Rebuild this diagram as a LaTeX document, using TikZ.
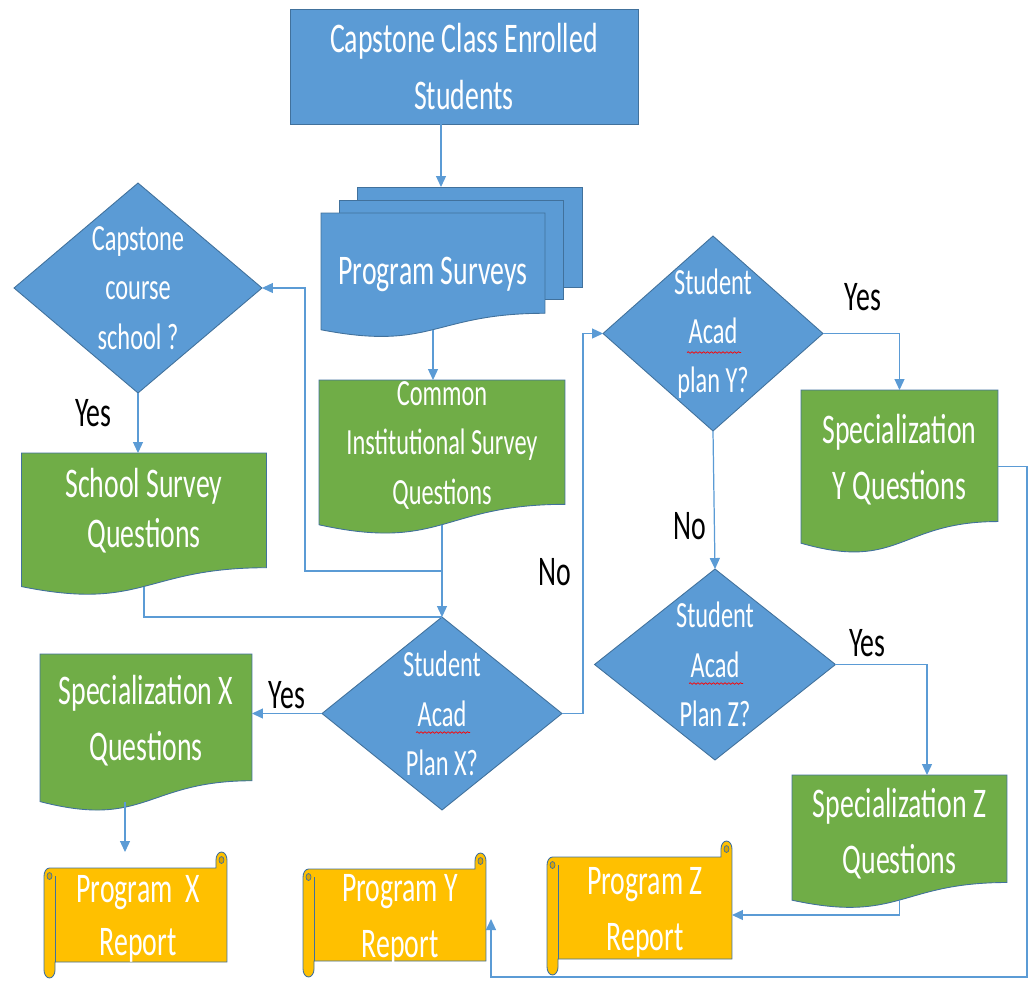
\documentclass[tikz,border=0pt]{standalone}
\usepackage{fontspec}
\setmainfont{Carlito}[FakeStretch=0.66]
\usepackage{tikz}
\usetikzlibrary{shapes.geometric,arrows.meta,calc,backgrounds,decorations.pathmorphing}

\definecolor{blu}{HTML}{5B9BD5}
\definecolor{grn}{HTML}{70AD47}
\definecolor{gld}{HTML}{FFC000}
\definecolor{gldd}{HTML}{D9A300}
\definecolor{edge}{HTML}{41719C}
\definecolor{conn}{HTML}{5B9BD5}

\newcommand\bigtxt{\fontsize{24pt}{32pt}\selectfont}
\newcommand\smalltxt{\fontsize{21pt}{28pt}\selectfont}

% document outline on a node
\newcommand\docshape[2]{%
  \filldraw[fill=#2, draw=edge, line width=0.5pt]
    (#1.north west) -- (#1.north east)
    -- ($(#1.north east)!0.8587!(#1.south east)$)
    .. controls ($(#1.north)!0.8587!(#1.south)$) and ($(#1.north)!1.1858!(#1.south)$)
    .. (#1.south west) -- cycle;}

% scroll outline round a node
\newcommand\scrollshape[1]{%
  \coordinate (nw) at (#1.north west);
  \coordinate (ne) at (#1.north east);
  \coordinate (se) at (#1.south east);
  \coordinate (sw) at (#1.south west);
  \filldraw[fill=gld, draw=edge, line width=0.5pt]
    ($(nw)+(-5.5,0)$) -- ($(ne)+(-11,0)$) -- ($(ne)+(-11,-8)$)
    arc[start angle=180, end angle=360, x radius=5.5, y radius=8]
    -- (se) -- (sw) -- ($(sw)+(0,8)$)
    arc[start angle=0, end angle=180, x radius=5.5, y radius=8]
    -- ($(nw)+(-11,8)$)
    arc[start angle=180, end angle=270, x radius=5.5, y radius=8] -- cycle;
  \draw[edge, line width=0.5pt] ($(nw)+(0,8)$) -- (sw);
  \filldraw[fill=gldd, draw=edge, line width=0.4pt]
    ($(nw)+(-5.5,8)$) ellipse[x radius=2.5, y radius=3.5]
    ($(ne)+(-5.5,-8)$) ellipse[x radius=2.5, y radius=3.5];}

\begin{document}
\begin{tikzpicture}[x=0.02cm, y=-0.02cm,
  box/.style={rectangle, fill=blu, draw=edge, line width=0.5pt, text=white,
              font=\bigtxt, align=center, inner sep=0pt, outer sep=0pt},
  page/.style={rectangle, fill=blu, draw=edge, line width=0.5pt,
               inner sep=0pt, outer sep=0pt},
  doc/.style={rectangle, inner sep=0pt, outer sep=0pt},
  dia/.style={diamond, fill=blu, draw=edge, line width=0.5pt,
              inner sep=0pt, outer sep=0pt},
  txt/.style={text=white, font=\bigtxt, align=center, inner sep=0pt},
  dtxt/.style={text=white, font=\smalltxt, align=center, inner sep=0pt},
  lab/.style={font=\bigtxt, inner sep=0pt},
  arr/.style={draw=conn, line width=0.7pt, -{Triangle[length=0.22cm,width=0.2cm]}},
  lin/.style={draw=conn, line width=0.7pt},
  spell/.style={draw=red, line width=0.4pt, decorate,
                decoration={snake, amplitude=0.45pt, segment length=2.2pt}},
]
\useasboundingbox (0,0) rectangle (1030,980);

% Shapes
\node[box, minimum width=6.96cm, minimum height=2.30cm] (top) at (464,66.5) {Capstone Class Enrolled\\Students};
\node[doc, minimum width=4.48cm, minimum height=2.335cm] (ps) at (433,271.4) {};
\node[dia, minimum width=4.96cm, minimum height=4.2cm] (ccs) at (138,288) {};
\node[doc, minimum width=4.9cm, minimum height=2.672cm] (sch) at (144,519.8) {};
\node[doc, minimum width=4.92cm, minimum height=2.896cm] (com) at (442,452.4) {};
\node[dia, minimum width=4.8cm, minimum height=3.86cm] (dx) at (442,713.5) {};
\node[dia, minimum width=4.4cm, minimum height=3.9cm] (dy) at (713,333.5) {};
\node[dia, minimum width=4.82cm, minimum height=3.82cm] (dz) at (715,664.5) {};
\node[doc, minimum width=3.94cm, minimum height=3.064cm] (syq) at (899.5,466.6) {};
\node[doc, minimum width=4.24cm, minimum height=2.952cm] (sxq) at (146,727.8) {};
\node[doc, minimum width=4.3cm, minimum height=2.504cm] (szq) at (899.5,837.6) {};
\node[doc, minimum width=3.44cm, minimum height=1.88cm] (pxr) at (141,915) {};
\node[doc, minimum width=3.44cm, minimum height=1.84cm] (pyr) at (400,915) {};
\node[doc, minimum width=3.48cm, minimum height=2.04cm] (pzr) at (645,908) {};

% Outlines behind
\begin{scope}[on background layer]
  \node[page, minimum width=4.5cm, minimum height=2.0cm] (ps3) at (469.5,237) {};
  \node[page, minimum width=4.48cm, minimum height=1.98cm] (ps2) at (451,249.5) {};
  \docshape{ps}{blu}
  \docshape{sch}{grn}
  \docshape{com}{grn}
  \docshape{syq}{grn}
  \docshape{sxq}{grn}
  \docshape{szq}{grn}
  \scrollshape{pxr}
  \scrollshape{pyr}
  \scrollshape{pzr}
\end{scope}

% Texts
\node[txt] (psT) at ($(ps)+(0,3)$) {Program Surveys};
\node[dtxt] (ccsT) at (ccs) {Capstone\\course\\school ?};
\node[txt, font=\fontsize{24pt}{28.4pt}\selectfont] (schT) at ($(sch)+(0,-9)$) {School Survey\\Questions};
\node[dtxt] (comT) at ($(com)+(0,-7)$) {Common\\Institutional Survey\\Questions};
\node[dtxt] (dxT) at (dx) {Student\\Acad\\Plan X?};
\node[dtxt] (dyT) at (dy) {Student\\Acad\\plan Y?};
\node[dtxt] (dzT) at (dz) {Student\\Acad\\Plan Z?};
\node[txt] (syqT) at ($(syq)+(0,-7)$) {Specialization\\Y Questions};
\node[txt] (sxqT) at ($(sxq)+(0,-7)$) {Specialization X\\Questions};
\node[txt] (szqT) at ($(szq)+(0,-4)$) {Specialization Z\\Questions};
\node[txt, font=\fontsize{24pt}{30pt}\selectfont] (pxrT) at ($(pxr)+(-3,4)$) {Program~~X\\Report};
\node[txt] (pyrT) at ($(pyr)+(0,4)$) {Program Y\\Report};
\node[txt] (pzrT) at ($(pzr)+(0,4)$) {Program Z\\Report};

% Spelling marks
\draw[spell] ($(dxT.center)+(-26,19)$) -- ++(54,0);
\draw[spell] ($(dyT.center)+(-26,19)$) -- ++(54,0);
\draw[spell] ($(dzT.center)+(-26,19)$) -- ++(54,0);

% Connectors
\draw[arr] ($(top.south)+(-23,0)$) -- ($(ps3.north)+(-28.5,0)$);
\draw[arr] (ps.south) -- (ps.south |- com.north);
\coordinate (j1) at ($(com.south)!0.5!(dx.north)$);
\draw[arr] (com.south) -- (dx.north);
\draw[arr] (j1) -- ++(-137,0) |- (ccs.east);
\draw[arr] (ccs.south) -- (ccs.south |- sch.north) node[lab, pos=0.33, left=0.52cm] {Yes};
\draw[lin] (sch.south) |- (dx.north);
\draw[arr] (dx.west) -- (dx.west -| sxq.east) node[lab, midway, above=0.08cm] {Yes};
\draw[arr] ($(sxq.south)+(-21,0)$) -- ($(pxr.north)+(-16,-16)$);
\draw[arr] (dx.east) -- ++(21,0) |- (dy.west) node[lab, pos=0.186, left=0.22cm] {No};
\draw[arr] (dy.east) -| (syq.north) node[lab, pos=0.26, above=0.44cm] {Yes};
\draw[arr] (dy.south) -- (dz.north) node[lab, pos=0.69, left=0.16cm] {No};
\draw[arr] (dz.east) -| ($(szq.north)+(27.5,0)$) node[lab, pos=0.175, above=0.14cm] {Yes};
\draw[arr] (szq.south) |- ($(pzr.east)+(0,7)$);
\draw[arr] (syq.east) -- ++(29,0) |- ($(pyr.south east)+(5,16)$) -- ($(pyr.east)+(5,4)$);
\end{tikzpicture}
\end{document}
